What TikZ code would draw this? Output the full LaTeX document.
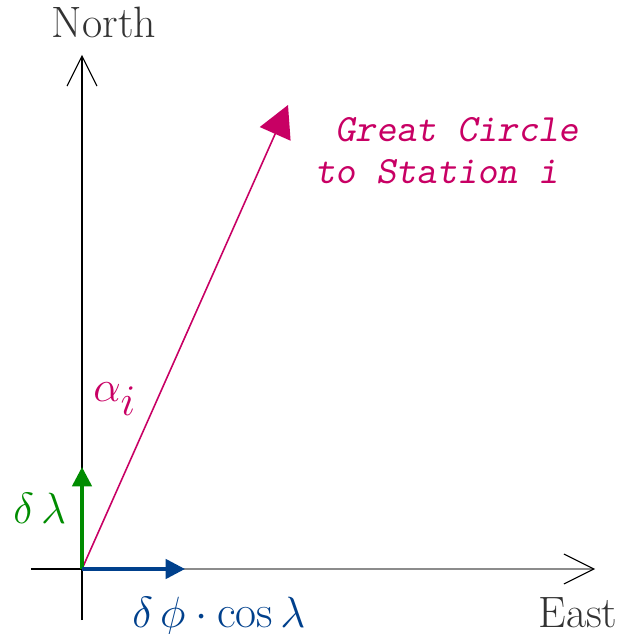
\documentclass[tikz,border=0pt]{standalone}
\usepackage{amsmath, amssymb}
\usepackage{fontspec}
\usepackage{tikz}
\usetikzlibrary{arrows.meta, positioning, calc}

\definecolor{gcmag}{RGB}{200,0,100}
\definecolor{dlgreen}{RGB}{0,140,0}
\definecolor{dpblue}{RGB}{0,64,140}

\tikzset{
  axis/.style={line width=0.6pt, -{Straight Barb[length=17pt, width=17pt, line width=0.6pt, color=black]}},
  dirlabel/.style={font=\fontsize{25}{29}\selectfont, inner sep=0pt, text=black!80},
  steparrow/.style={line width=2pt, -{Triangle[length=11pt, width=11pt]}},
  mathlabel/.style={inner sep=0pt, font=\fontsize{26}{30}\selectfont}
}

\begin{document}
\begin{tikzpicture}[x=0.02cm, y=0.02cm]
  \useasboundingbox (-82,-65) rectangle (550,569);
  %% Origin and axis ends
  \coordinate (O) at (0,0);
  \coordinate (S) at (0,-51);
  \coordinate (W) at (-51,0);
  \coordinate (N) at (0,514);
  \coordinate (E) at (513,0);
  %% Axes
  \draw[axis] (S) -- (N);
  \draw[axis, draw=gray!90] (O) -- (E);
  \draw[line width=1.1pt] (W) -- (O);
  \node[dirlabel, anchor=base] (north) at (22,531) {North};
  \node[dirlabel, anchor=base] (east) at (496,-58) {East};
  %% Great circle direction
  \coordinate (G) at (206,464);
  \draw[gcmag, line width=0.9pt, -{Triangle[length=18pt, width=19pt]}] (O) -- (G);
  \node[gcmag, inner sep=0pt, anchor=north west, align=left,
        font=\fontsize{22}{24}\selectfont\ttfamily\slshape] (gc) at (233,452)
        {\ Great Circle\\to Station i};
  \node[gcmag, inner sep=0pt, anchor=base west, font=\fontsize{33}{36}\selectfont] (alpha) at (11,167) {$\alpha_i$};
  %% Small steps
  \coordinate (DL) at (0,102);
  \coordinate (DP) at (103,0);
  \draw[steparrow, dlgreen] (O) -- (DL);
  \draw[steparrow, dpblue] (O) -- (DP);
  \node[mathlabel, dlgreen, anchor=base west] (dlam) at (-69,45) {$\delta\,\lambda$};
  \node[mathlabel, dpblue, anchor=base west] (dphi) at (50,-58) {$\delta\,\phi\cdot\cos\lambda$};
\end{tikzpicture}
\end{document}
